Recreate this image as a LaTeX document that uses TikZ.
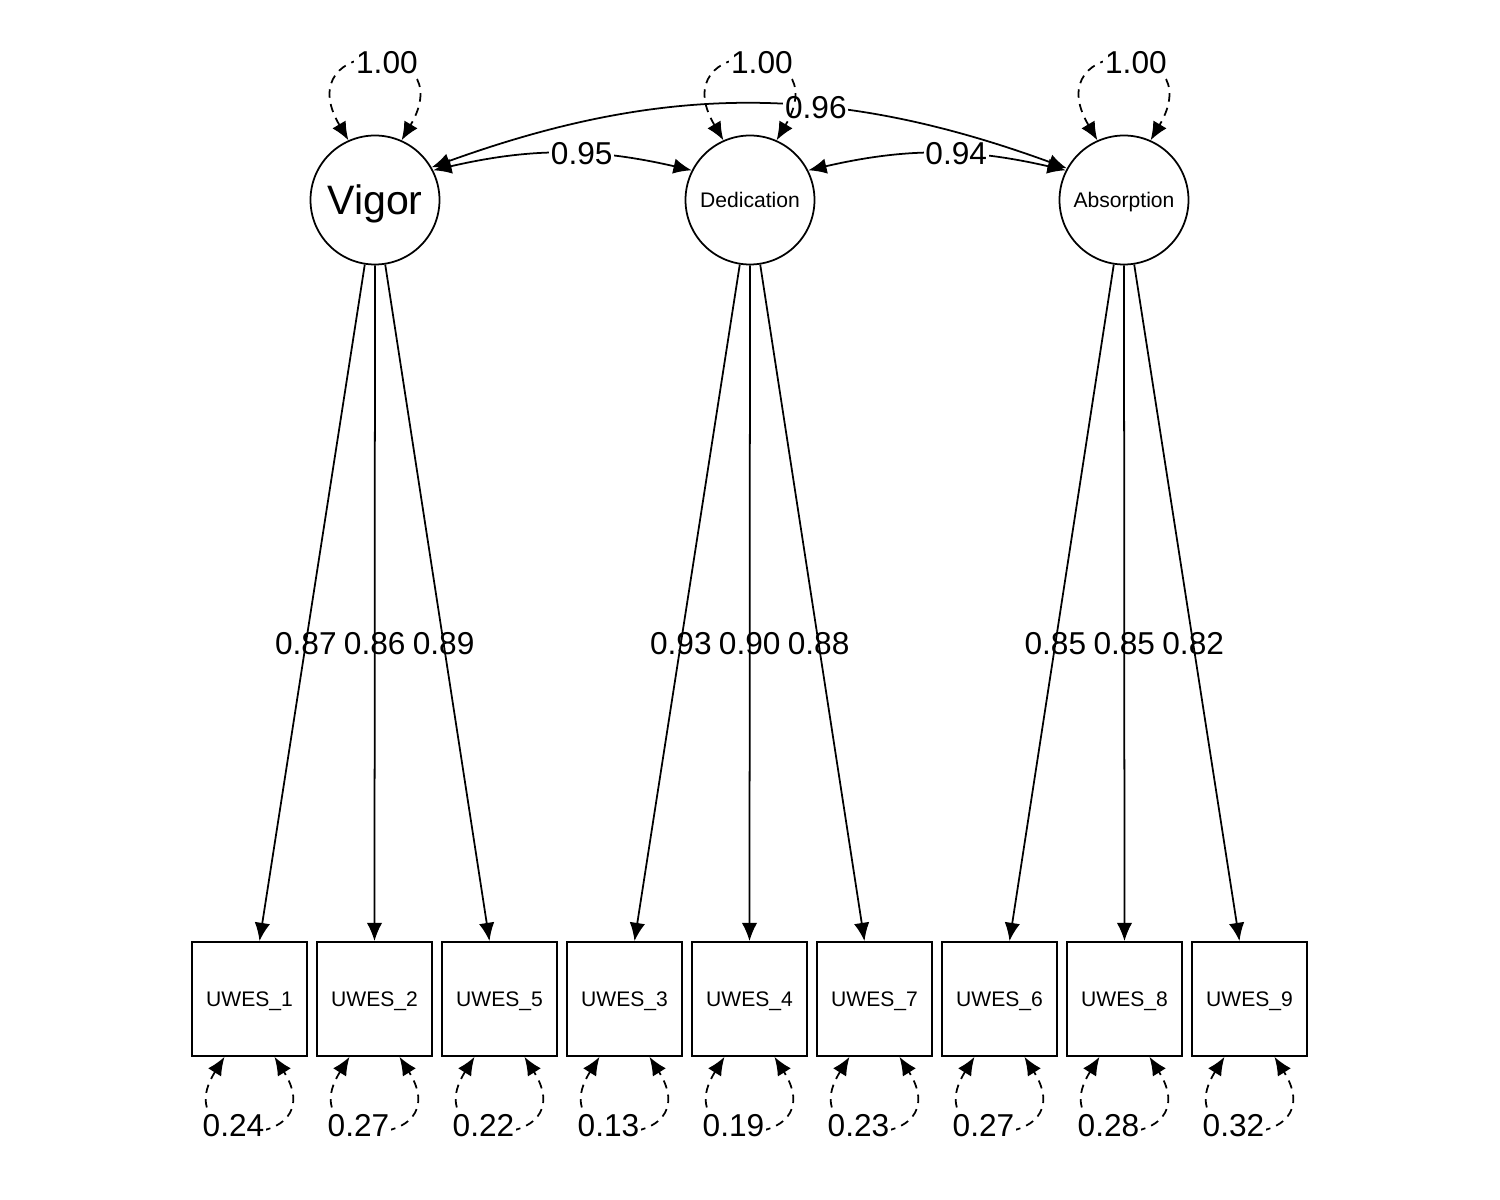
\documentclass[tikz,border=0pt]{standalone}
\usepackage{fontspec}
\setmainfont{Liberation Sans}
\usetikzlibrary{arrows.meta}
\begin{document}
\begin{tikzpicture}[
    lat/.style={circle,draw,minimum size=1.29cm,inner sep=0pt,text depth=0pt,font=\fontsize{6}{7}\selectfont},
    man/.style={rectangle,draw,minimum width=1.15cm,minimum height=1.14cm,inner sep=0pt,text depth=0pt,font=\fontsize{6}{7}\selectfont},
    onetip/.style={-{Latex[length=5.2pt,width=4.4pt]}},
    twotip/.style={{Latex[length=5.2pt,width=4.4pt]}-{Latex[length=5.2pt,width=4.4pt]}},
    loopline/.style={twotip,dash pattern=on 2.4pt off 1.8pt},
    est/.style={font=\fontsize{9}{10}\selectfont,inner sep=0.5pt},
    cov/.style={est,fill=white},
    line width=0.5pt]
  \useasboundingbox (0,0) rectangle (15,12);
  \path
    (3.75,10) node[lat,font=\fontsize{11.7}{13}\selectfont] (vig){Vigor}
    (7.50,10) node[lat] (ded){Dedication}
    (11.24,10) node[lat] (abs){Absorption}
    (2.495,2.01) node[man] (u1){UWES\_1}
    (3.745,2.01) node[man] (u2){UWES\_2}
    (4.995,2.01) node[man] (u5){UWES\_5}
    (6.245,2.01) node[man] (u3){UWES\_3}
    (7.495,2.01) node[man] (u4){UWES\_4}
    (8.745,2.01) node[man] (u7){UWES\_7}
    (9.995,2.01) node[man] (u6){UWES\_6}
    (11.245,2.01) node[man] (u8){UWES\_8}
    (12.495,2.01) node[man] (u9){UWES\_9};
  \begin{scope}[onetip]
    \draw (vig.261) -- ([xshift=0.1cm]u1.north) node[est,pos=0.56]{0.87};
    \draw (vig.270) -- (u2.north) node[est,pos=0.56]{0.86};
    \draw (vig.279) -- ([xshift=-0.1cm]u5.north) node[est,pos=0.56]{0.89};
    \draw (ded.261) -- ([xshift=0.1cm]u3.north) node[est,pos=0.56]{0.93};
    \draw (ded.270) -- (u4.north) node[est,pos=0.56]{0.90};
    \draw (ded.279) -- ([xshift=-0.1cm]u7.north) node[est,pos=0.56]{0.88};
    \draw (abs.261) -- ([xshift=0.1cm]u6.north) node[est,pos=0.56]{0.85};
    \draw (abs.270) -- (u8.north) node[est,pos=0.56]{0.85};
    \draw (abs.279) -- ([xshift=-0.1cm]u9.north) node[est,pos=0.56]{0.82};
  \end{scope}
  \begin{scope}[twotip]
    \draw (vig.27) to[bend left=13] node[cov,pos=0.58]{0.95} (ded.153);
    \draw (ded.27) to[bend left=13] node[cov,pos=0.58]{0.94} (abs.153);
    \draw (vig.30) to[bend left=20] node[cov,pos=0.61]{0.96} (abs.151);
  \end{scope}
  \begin{scope}[loopline]
    \draw (vig.114) .. controls +(-0.62,1.05) and +(0.62,1.05) .. (vig.66) node[cov,pos=0.57]{1.00};
    \draw (ded.114) .. controls +(-0.62,1.05) and +(0.62,1.05) .. (ded.66) node[cov,pos=0.57]{1.00};
    \draw (abs.114) .. controls +(-0.62,1.05) and +(0.62,1.05) .. (abs.66) node[cov,pos=0.57]{1.00};
    \draw ([xshift=-0.25cm]u1.south) .. controls +(-0.6,-0.95) and +(0.6,-0.95) .. ([xshift=0.25cm]u1.south) node[cov,pos=0.4]{0.24};
    \draw ([xshift=-0.25cm]u2.south) .. controls +(-0.6,-0.95) and +(0.6,-0.95) .. ([xshift=0.25cm]u2.south) node[cov,pos=0.4]{0.27};
    \draw ([xshift=-0.25cm]u5.south) .. controls +(-0.6,-0.95) and +(0.6,-0.95) .. ([xshift=0.25cm]u5.south) node[cov,pos=0.4]{0.22};
    \draw ([xshift=-0.25cm]u3.south) .. controls +(-0.6,-0.95) and +(0.6,-0.95) .. ([xshift=0.25cm]u3.south) node[cov,pos=0.4]{0.13};
    \draw ([xshift=-0.25cm]u4.south) .. controls +(-0.6,-0.95) and +(0.6,-0.95) .. ([xshift=0.25cm]u4.south) node[cov,pos=0.4]{0.19};
    \draw ([xshift=-0.25cm]u7.south) .. controls +(-0.6,-0.95) and +(0.6,-0.95) .. ([xshift=0.25cm]u7.south) node[cov,pos=0.4]{0.23};
    \draw ([xshift=-0.25cm]u6.south) .. controls +(-0.6,-0.95) and +(0.6,-0.95) .. ([xshift=0.25cm]u6.south) node[cov,pos=0.4]{0.27};
    \draw ([xshift=-0.25cm]u8.south) .. controls +(-0.6,-0.95) and +(0.6,-0.95) .. ([xshift=0.25cm]u8.south) node[cov,pos=0.4]{0.28};
    \draw ([xshift=-0.25cm]u9.south) .. controls +(-0.6,-0.95) and +(0.6,-0.95) .. ([xshift=0.25cm]u9.south) node[cov,pos=0.4]{0.32};
  \end{scope}
\end{tikzpicture}
\end{document}
